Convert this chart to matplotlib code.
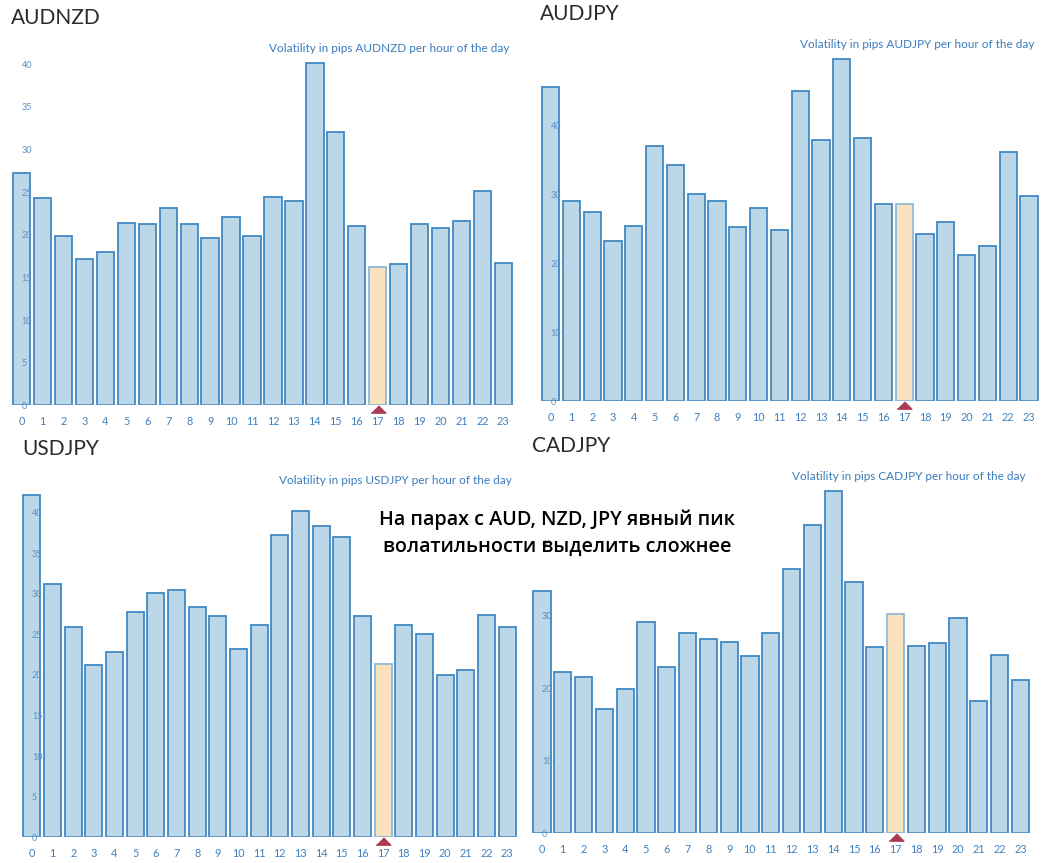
import matplotlib
matplotlib.use('Agg')
import matplotlib.pyplot as plt
import matplotlib.transforms as mtransforms
import numpy as np

W, H = 1047, 863

hours = list(range(24))
hour_labels = [str(h) for h in hours]
marked_hour = 17

audnzd = [27.2, 24.3, 19.8, 17.2, 18.0, 21.4, 21.2, 23.1, 21.3, 19.6, 22.1, 19.8,
          24.4, 24.0, 40.1, 32.0, 21.0, 16.2, 16.6, 21.2, 20.8, 21.6, 25.1, 16.7]
audjpy = [45.5, 29.0, 27.5, 23.2, 25.4, 37.0, 34.3, 30.0, 29.0, 25.2, 28.0, 24.8,
          45.0, 37.9, 49.6, 38.2, 28.6, 28.6, 24.3, 26.0, 21.2, 22.5, 36.1, 29.8]
usdjpy = [42.1, 31.2, 25.9, 21.2, 22.8, 27.7, 30.1, 30.4, 28.4, 27.3, 23.2, 26.1,
          37.2, 40.2, 38.3, 37.0, 27.3, 21.3, 26.1, 25.0, 20.0, 20.6, 27.4, 25.9]
cadjpy = [33.4, 22.2, 21.5, 17.1, 19.9, 29.1, 22.9, 27.6, 26.8, 26.4, 24.5, 27.6,
          36.5, 42.5, 47.2, 34.6, 25.7, 30.2, 25.8, 26.3, 29.7, 18.3, 24.6, 21.2]

ticks_5 = list(range(0, 45, 5))
ticks_10 = list(range(0, 50, 10))

BAR_FILL = '#bcd7e8'
BAR_EDGE = '#4189c4'
MARK_FILL = '#f9e2bd'
MARK_EDGE = '#8fbad8'
TRI_COLOR = '#ad3a52'
TICK_COLOR = '#3f80c0'
YTICK_COLOR = '#5a8fc6'
SUB_COLOR = '#3a7bbd'
TITLE_COLOR = '#2b2b2b'
FONT = ['Lato', 'DejaVu Sans']

fig = plt.figure(figsize=(W / 100, H / 100), dpi=100)


def px_text(x, y, s, **kw):
    return fig.text(x / W, 1 - y / H, s, **kw)


def draw_panel(name, values, yticks, left, right, base, ppu, ymax,
               title_xy, sub_xy, width=0.83):
    pitch = (right - left) / (23 + width)
    ax_left = left - (0.5 - width / 2) * pitch
    ax_right = right + (0.5 - width / 2) * pitch
    top = base - ymax * ppu
    ax = fig.add_axes([ax_left / W, 1 - base / H,
                       (ax_right - ax_left) / W, (base - top) / H])
    ax.set_xlim(-0.5, 23.5)
    ax.set_ylim(0, ymax)
    ax.set_axisbelow(False)
    fills = [MARK_FILL if h == marked_hour else BAR_FILL for h in hours]
    edges = [MARK_EDGE if h == marked_hour else BAR_EDGE for h in hours]
    ax.bar(hours, values, width=width, color=fills, edgecolor=edges,
           linewidth=1.3, zorder=2)
    ax.axhline(0, color='#9fb8cf', lw=1, zorder=2.2)

    # marker under the current hour
    tri = np.array([(-2, -1), (2, -1), (0, 1)])
    off = mtransforms.offset_copy(ax.transData, fig=fig, x=0, y=-4, units='dots')
    ax.plot([marked_hour], [0], marker=tri, ms=10.5, color=TRI_COLOR,
            transform=off, clip_on=False, zorder=4)

    ax.set_xticks(hours)
    ax.set_xticklabels(hour_labels, fontsize=7.8, color=TICK_COLOR, family=FONT)
    ax.tick_params(axis='x', length=0, pad=8)
    ax.set_yticks(yticks)
    ax.set_yticklabels([str(t) for t in yticks], fontsize=6.5,
                       color=YTICK_COLOR, family=FONT)
    ax.tick_params(axis='y', length=0, pad=-7.5)
    for lab in ax.get_yticklabels():
        lab.set_horizontalalignment('left')
    for sp in ax.spines.values():
        sp.set_visible(False)
    ax.set_facecolor('none')

    px_text(title_xy[0], title_xy[1], name, fontsize=15, color=TITLE_COLOR,
            family=FONT, ha='left', va='center')
    px_text(sub_xy[0], sub_xy[1], 'Volatility in pips %s per hour of the day' % name,
            fontsize=8.5, color=SUB_COLOR, family=FONT, ha='right', va='center')
    return ax


draw_panel('AUDNZD', audnzd, ticks_5, 13, 512, 405.3, 8.53, 41,
           (11, 18), (509, 48))
draw_panel('AUDJPY', audjpy, ticks_10, 542, 1037.7, 401.3, 6.9, 50,
           (540, 14), (1034, 44))
draw_panel('USDJPY', usdjpy, ticks_5, 23.3, 515.7, 837.3, 8.12, 43,
           (22, 449), (512, 480))
draw_panel('CADJPY', cadjpy, ticks_10, 533.3, 1029, 833.3, 7.25, 48,
           (532, 446), (1025, 476))

note = 'На парах с AUD, NZD, JPY явный пик\nволатильности выделить сложнее'
px_text(557, 533, note, fontsize=14.2, linespacing=1.45,
        family=['Open Sans', 'DejaVu Sans'], weight='semibold', color='black',
        ha='center', va='center', zorder=10)

fig.savefig('out.png', dpi=100)
